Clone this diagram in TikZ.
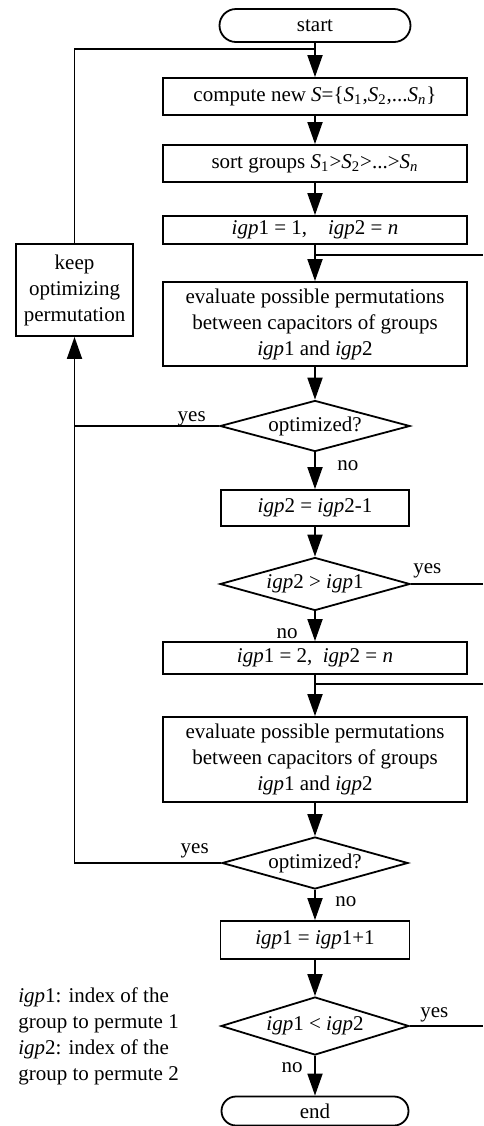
\documentclass[tikz,border=0pt]{standalone}
\usepackage{fontspec}
\setmainfont{Liberation Serif}
\usetikzlibrary{shapes.geometric,shapes.misc,arrows.meta,calc}
\tikzset{
  procbox/.style={ % image of a process step
    draw, rectangle, line width=0.9pt, inner sep=1pt,
    align=center, font=\fontsize{10.5}{13}\selectfont
  },
  decision/.style={ % image of a yes/no test
    draw, diamond, aspect=3.7, line width=0.9pt, inner sep=0pt,
    font=\fontsize{10.5}{13}\selectfont
  },
  terminal/.style={ % image of start and end
    draw, rounded rectangle, line width=0.9pt, inner sep=0pt,
    font=\fontsize{10.5}{13}\selectfont
  },
  lbl/.style={
    inner sep=0pt, font=\fontsize{10.5}{13}\selectfont
  },
  flow/.style={
    line width=0.9pt, -{Triangle[length=11pt,width=7.5pt]}
  },
  wire/.style={line width=0.9pt}
}

\begin{document}
\begin{tikzpicture}[x=0.5pt, y=-0.5pt]
    \useasboundingbox (0,0) rectangle (483,1126);

    \node[terminal, minimum width=95.5pt, minimum height=16.5pt] (start) at (315,25.5) {start};
    \node[procbox, minimum width=152pt, minimum height=18.5pt] (compute) at (315,96.5)
      {compute new \textit{S}=\{\textit{S}\textsubscript{1},\textit{S}\textsubscript{2},...\textit{S}\textsubscript{\textit{n}}\}};
    \node[procbox, minimum width=152pt, minimum height=18.5pt] (sort) at (315,163.5)
      {sort groups \textit{S}\textsubscript{1}>\textit{S}\textsubscript{2}>...>\textit{S}\textsubscript{\textit{n}}};
    \node[procbox, minimum width=152pt, minimum height=14pt] (init1) at (315,230)
      {\textit{igp}1 = 1,\quad \textit{igp}2 = \textit{n}};
    \node[procbox, minimum width=152pt, minimum height=42pt] (eval1) at (315,324)
      {evaluate possible permutations\\between capacitors of groups\\\textit{igp}1 and \textit{igp}2};
    \node[decision, minimum width=95pt, minimum height=25.5pt] (opt1) at (315,426) {optimized?};
    \node[procbox, minimum width=94pt, minimum height=18pt] (dec2) at (315,508)
      {\textit{igp}2 = \textit{igp}2-1};
    \node[decision, minimum width=95pt, minimum height=26.5pt] (cmp1) at (315,584)
      {\textit{igp}2 > \textit{igp}1};
    \node[procbox, minimum width=152pt, minimum height=16pt] (init2) at (315,658)
      {\textit{igp}1 = 2,\enspace \textit{igp}2 = \textit{n}};
    \node[procbox, minimum width=152pt, minimum height=42.5pt] (eval2) at (315,759.5)
      {evaluate possible permutations\\between capacitors of groups\\\textit{igp}1 and \textit{igp}2};
    \node[decision, minimum width=93pt, minimum height=26pt] (opt2) at (315,863) {optimized?};
    \node[procbox, minimum width=94.5pt, minimum height=19pt] (inc1) at (315,940)
      {\textit{igp}1 = \textit{igp}1+1};
    \node[decision, minimum width=94pt, minimum height=29pt] (cmp2) at (315,1026)
      {\textit{igp}1 < \textit{igp}2};
    \node[terminal, minimum width=93.5pt, minimum height=14.5pt] (end) at (315,1111) {end};
    \node[procbox, minimum width=58.5pt, minimum height=46pt] (keep) at (74.5,290)
      {keep\\optimizing\\permutation};

    % legend
    \node[lbl, anchor=north west, align=left] (legend) at (18,987)
      {\textit{igp}1: index of the\\group to permute 1\\\textit{igp}2: index of the\\group to permute 2};

    % joints and the right rim
    \coordinate (loopin) at (315,49);
    \coordinate (j1) at (315,255);
    \coordinate (j2) at (315,684);
    \coordinate (rim) at (483,0);

    \draw[flow] (start) -- (compute);
    \draw[flow] (compute) -- (sort);
    \draw[flow] (sort) -- (init1);
    \draw[flow] (init1) -- (eval1);
    \draw[flow] (eval1) -- (opt1);
    \draw[flow] (opt1) -- (dec2);
    \draw[flow] (dec2) -- (cmp1);
    \draw[flow] (cmp1) -- (init2);
    \draw[flow] (init2) -- (eval2);
    \draw[flow] (eval2) -- (opt2);
    \draw[flow] (opt2) -- (inc1);
    \draw[flow] (inc1) -- (cmp2);
    \draw[flow] (cmp2) -- (end);

    \draw[wire] (j1) -- (j1 -| rim);
    \draw[wire] (j2) -- (j2 -| rim);
    \draw[wire] (cmp1.east) -- (cmp1.east -| rim);
    \draw[wire] (cmp2.east) -- (cmp2.east -| rim);

    \draw[flow] (opt2.west) -| (keep.south);
    \draw[wire] (opt1.west) -- (opt1.west -| keep.south);
    \draw[wire] (keep.north) |- (loopin);

    % yes / no
    \node[lbl, anchor=base east] (opt1_yes) at ([xshift=-6.5pt,yshift=2.5pt]opt1.west) {yes};
    \node[lbl, anchor=base west] (opt1_no) at ([xshift=11pt,yshift=-9pt]opt1.south) {no};
    \node[lbl, anchor=base west] (cmp1_yes) at ([xshift=1pt,yshift=5.5pt]cmp1.east) {yes};
    \node[lbl, anchor=base east] (cmp1_no) at ([xshift=-8.5pt,yshift=-13.5pt]cmp1.south) {no};
    \node[lbl, anchor=base east] (opt2_yes) at ([xshift=-6pt,yshift=5pt]opt2.west) {yes};
    \node[lbl, anchor=base west] (opt2_no) at ([xshift=10pt,yshift=-8.5pt]opt2.south) {no};
    \node[lbl, anchor=base west] (cmp2_yes) at ([xshift=5pt,yshift=4.5pt]cmp2.east) {yes};
    \node[lbl, anchor=base east] (cmp2_no) at ([xshift=-6pt,yshift=-8.5pt]cmp2.south) {no};
\end{tikzpicture}
\end{document}
